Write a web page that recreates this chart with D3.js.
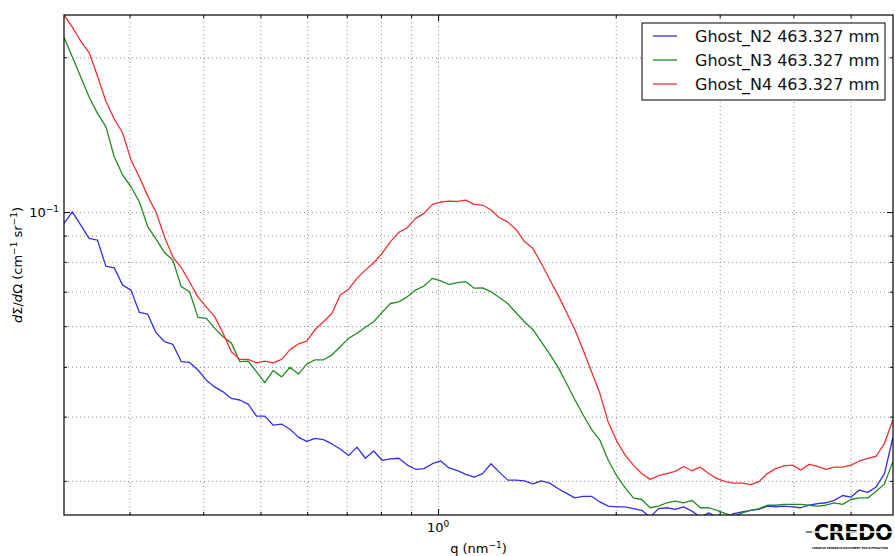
<!DOCTYPE html>
<html>
<head>
<meta charset="utf-8">
<script src="https://cdn.jsdelivr.net/npm/d3@7"></script>
<style>
body { margin: 0; background: #fff; }
svg { font-family: "DejaVu Sans", sans-serif; }
.grid line { stroke: #8c8c8c; stroke-dasharray: 1,3; stroke-width: 1; }
.grid path, .ticks path { display: none; }
.ticks line { stroke: #000; }
</style>
</head>
<body>
<svg id="chart" width="895" height="556"></svg>
<script>
// q grid shared by the three curves (nm^-1)
const qValues = [
    0.2323, 0.2400, 0.2480, 0.2562, 0.2647, 0.2735, 0.2826, 0.2920, 0.3017, 0.3117,
    0.3221, 0.3328, 0.3438, 0.3552, 0.3670, 0.3792, 0.3918, 0.4048, 0.4182, 0.4321,
    0.4464, 0.4612, 0.4765, 0.4924, 0.5087, 0.5256, 0.5431, 0.5611, 0.5797, 0.5990,
    0.6189, 0.6394, 0.6606, 0.6826, 0.7052, 0.7286, 0.7528, 0.7778, 0.8036, 0.8303,
    0.8579, 0.8866, 0.9160, 0.9464, 0.9779, 1.0103, 1.0439, 1.0785, 1.1143, 1.1513,
    1.1896, 1.2291, 1.2699, 1.3121, 1.3556, 1.4006, 1.4471, 1.4952, 1.5448, 1.5961,
    1.6491, 1.7045, 1.7611, 1.8195, 1.8799, 1.9424, 2.0068, 2.0735, 2.1423, 2.2134,
    2.2869, 2.3629, 2.4413, 2.5224, 2.6061, 2.6926, 2.7820, 2.8744, 2.9698, 3.0684,
    3.1703, 3.2755, 3.3843, 3.4966, 3.6127, 3.7327, 3.8566, 3.9846, 4.1169, 4.2536,
    4.3948, 4.5407, 4.6915, 4.8472, 5.0081, 5.1744, 5.3462, 5.5237, 5.7071, 5.8965
];

const ghostN2 = [
    0.0951, 0.1001, 0.0943, 0.0889, 0.0882, 0.0785, 0.0779, 0.0721, 0.0705, 0.0638,
    0.0633, 0.0582, 0.0560, 0.0553, 0.0512, 0.0510, 0.0493, 0.0471, 0.0457, 0.0447,
    0.0434, 0.0431, 0.0423, 0.0401, 0.0401, 0.0385, 0.0387, 0.0378, 0.0365, 0.0358,
    0.0363, 0.0361, 0.0354, 0.0346, 0.0336, 0.0349, 0.0332, 0.0343, 0.0329, 0.0331,
    0.0332, 0.0322, 0.0316, 0.0317, 0.0324, 0.0328, 0.0318, 0.0314, 0.0309, 0.0305,
    0.0310, 0.0324, 0.0312, 0.0301, 0.0301, 0.0300, 0.0296, 0.0300, 0.0297, 0.0290,
    0.0284, 0.0278, 0.0280, 0.0280, 0.0273, 0.0268, 0.0267, 0.0267, 0.0265, 0.0263,
    0.0255, 0.0265, 0.0266, 0.0264, 0.0267, 0.0262, 0.0255, 0.0260, 0.0255, 0.0255,
    0.0259, 0.0261, 0.0263, 0.0264, 0.0268, 0.0267, 0.0268, 0.0267, 0.0266, 0.0269,
    0.0271, 0.0272, 0.0275, 0.0281, 0.0279, 0.0288, 0.0285, 0.0292, 0.0310, 0.0364
];

const ghostN3 = [
    0.2187, 0.2002, 0.1831, 0.1674, 0.1556, 0.1466, 0.1281, 0.1180, 0.1120, 0.1047,
    0.0936, 0.0886, 0.0834, 0.0807, 0.0716, 0.0700, 0.0624, 0.0621, 0.0594, 0.0572,
    0.0556, 0.0512, 0.0513, 0.0489, 0.0466, 0.0492, 0.0478, 0.0499, 0.0484, 0.0506,
    0.0516, 0.0516, 0.0527, 0.0547, 0.0568, 0.0581, 0.0597, 0.0612, 0.0638, 0.0664,
    0.0669, 0.0684, 0.0705, 0.0718, 0.0743, 0.0735, 0.0723, 0.0729, 0.0732, 0.0711,
    0.0712, 0.0700, 0.0682, 0.0664, 0.0637, 0.0612, 0.0591, 0.0560, 0.0530, 0.0500,
    0.0465, 0.0432, 0.0403, 0.0378, 0.0360, 0.0329, 0.0307, 0.0291, 0.0278, 0.0276,
    0.0266, 0.0268, 0.0272, 0.0274, 0.0272, 0.0275, 0.0266, 0.0266, 0.0263, 0.0259,
    0.0256, 0.0260, 0.0263, 0.0265, 0.0269, 0.0269, 0.0270, 0.0270, 0.0270, 0.0269,
    0.0268, 0.0269, 0.0272, 0.0270, 0.0276, 0.0278, 0.0278, 0.0286, 0.0296, 0.0327
];

const ghostN4 = [
    0.2417, 0.2290, 0.2151, 0.2043, 0.1839, 0.1644, 0.1517, 0.1425, 0.1263, 0.1170,
    0.1074, 0.0998, 0.0895, 0.0818, 0.0780, 0.0731, 0.0683, 0.0654, 0.0626, 0.0581,
    0.0535, 0.0517, 0.0517, 0.0509, 0.0513, 0.0509, 0.0517, 0.0540, 0.0554, 0.0561,
    0.0591, 0.0612, 0.0635, 0.0690, 0.0708, 0.0743, 0.0771, 0.0797, 0.0831, 0.0876,
    0.0913, 0.0932, 0.0972, 0.0994, 0.1035, 0.1046, 0.1050, 0.1049, 0.1055, 0.1035,
    0.1032, 0.1009, 0.0975, 0.0957, 0.0925, 0.0876, 0.0850, 0.0795, 0.0740, 0.0690,
    0.0640, 0.0591, 0.0539, 0.0489, 0.0444, 0.0390, 0.0359, 0.0337, 0.0322, 0.0310,
    0.0302, 0.0307, 0.0310, 0.0313, 0.0320, 0.0314, 0.0319, 0.0310, 0.0303, 0.0299,
    0.0297, 0.0297, 0.0295, 0.0299, 0.0310, 0.0317, 0.0321, 0.0322, 0.0315, 0.0323,
    0.0320, 0.0316, 0.0319, 0.0319, 0.0322, 0.0328, 0.0332, 0.0335, 0.0355, 0.0394
];

const seriesNames = ["Ghost_N2 463.327 mm", "Ghost_N3 463.327 mm", "Ghost_N4 463.327 mm"];
const seriesColors = ["#3030ea", "#228a22", "#ee3030"];

const xMajorTicks = [1];
const xMinorTicks = [0.3, 0.4, 0.5, 0.6, 0.7, 0.8, 0.9, 2, 3, 4, 5];
const yMajorTicks = [0.1];
const yMinorTicks = [0.03, 0.04, 0.05, 0.06, 0.07, 0.08, 0.09, 0.2];
const xDomain = [0.2323, 5.90];
const yDomain = [0.02575, 0.2417];

let margin = {left: 64, top: 15, right: 2, bottom: 41};
let width = 895 - margin.left - margin.right;
let height = 556 - margin.top - margin.bottom;

let svg = d3.select("#chart");
let g = svg.append("g").attr("transform", "translate(" + margin.left + "," + margin.top + ")");

let x = d3.scaleLog().domain(xDomain).range([0, width]);
let y = d3.scaleLog().domain(yDomain).range([height, 0]);

let allX = xMajorTicks.concat(xMinorTicks);
let allY = yMajorTicks.concat(yMinorTicks);

// dotted grid on every tick
g.append("g").attr("class", "grid")
    .attr("transform", "translate(0," + height + ")")
    .call(d3.axisBottom(x).tickValues(allX).tickSize(-height).tickFormat(""));
g.append("g").attr("class", "grid")
    .call(d3.axisLeft(y).tickValues(allY).tickSize(-width).tickFormat(""));

// curves
g.append("clipPath").attr("id", "plotClip")
    .append("rect").attr("width", width).attr("height", height);

let series = [ghostN2, ghostN3, ghostN4].map(function (vals, i) {
    return {
        name: seriesNames[i],
        color: seriesColors[i],
        points: qValues.map(function (q, j) { return {q: q, v: vals[j]}; })
    };
});

let line = d3.line()
    .x(function (d) { return x(d.q); })
    .y(function (d) { return y(d.v); });

g.append("g").attr("clip-path", "url(#plotClip)")
    .selectAll("path").data(series).enter()
    .append("path")
    .attr("d", function (d) { return line(d.points); })
    .attr("fill", "none")
    .attr("stroke", function (d) { return d.color; })
    .attr("stroke-width", 1.3)
    .attr("stroke-linejoin", "round");

// inward ticks on all four sides
function tickSet(axisFn, scale, values, len, transform) {
    g.append("g").attr("class", "ticks")
        .attr("transform", transform)
        .call(axisFn(scale).tickValues(values).tickSize(-len).tickFormat(""));
}
tickSet(d3.axisBottom, x, xMajorTicks, 6, "translate(0," + height + ")");
tickSet(d3.axisBottom, x, xMinorTicks, 3, "translate(0," + height + ")");
tickSet(d3.axisTop, x, xMajorTicks, 6, "translate(0,0)");
tickSet(d3.axisTop, x, xMinorTicks, 3, "translate(0,0)");
tickSet(d3.axisLeft, y, yMajorTicks, 6, "translate(0,0)");
tickSet(d3.axisLeft, y, yMinorTicks, 3, "translate(0,0)");
tickSet(d3.axisRight, y, yMajorTicks, 6, "translate(" + width + ",0)");
tickSet(d3.axisRight, y, yMinorTicks, 3, "translate(" + width + ",0)");

// frame
g.append("rect")
    .attr("width", width).attr("height", height)
    .attr("fill", "none").attr("stroke", "#000").attr("stroke-width", 1.2);

// major tick labels
g.selectAll(".xlab").data(xMajorTicks).enter()
    .append("text").attr("class", "xlab")
    .attr("x", function (d) { return x(d); })
    .attr("y", height + 17)
    .attr("text-anchor", "middle")
    .attr("font-size", 13)
    .each(function (d) {
        let t = d3.select(this);
        t.append("tspan").text("10");
        t.append("tspan").attr("dy", -5).attr("font-size", 9).text(Math.round(Math.log10(d)));
    });

g.selectAll(".ylab").data(yMajorTicks).enter()
    .append("text").attr("class", "ylab")
    .attr("x", -5)
    .attr("y", function (d) { return y(d) + 5; })
    .attr("text-anchor", "end")
    .attr("font-size", 13)
    .each(function (d) {
        let t = d3.select(this);
        t.append("tspan").text("10");
        t.append("tspan").attr("dy", -5).attr("font-size", 9)
            .text("\u2212" + Math.abs(Math.round(Math.log10(d))));
    });

// axis titles
let xt = svg.append("text")
    .attr("x", margin.left + width / 2)
    .attr("y", 553)
    .attr("text-anchor", "middle")
    .attr("font-size", 13);
xt.append("tspan").text("q (nm");
xt.append("tspan").attr("dy", -5).attr("font-size", 9).text("\u22121");
xt.append("tspan").attr("dy", 5).text(")");

let yt = svg.append("text")
    .attr("transform", "translate(22," + (margin.top + height / 2) + ") rotate(-90)")
    .attr("text-anchor", "middle")
    .attr("font-size", 13);
yt.append("tspan").attr("font-style", "italic").text("d");
yt.append("tspan").text("\u03A3/");
yt.append("tspan").attr("font-style", "italic").text("d");
yt.append("tspan").text("\u03A9 (cm");
yt.append("tspan").attr("dy", -5).attr("font-size", 9).text("\u22121");
yt.append("tspan").attr("dy", 5).text(" sr");
yt.append("tspan").attr("dy", -5).attr("font-size", 9).text("\u22121");
yt.append("tspan").attr("dy", 5).text(")");

// legend
let legend = svg.append("g").attr("transform", "translate(642,23)");
legend.append("rect")
    .attr("width", 243).attr("height", 77)
    .attr("fill", "#fff").attr("stroke", "#000").attr("stroke-width", 1);

let rows = legend.selectAll(".row").data(series).enter()
    .append("g").attr("class", "row")
    .attr("transform", function (d, i) { return "translate(0," + (13 + i * 24) + ")"; });
rows.append("line")
    .attr("x1", 11).attr("x2", 35)
    .attr("stroke", function (d) { return d.color; })
    .attr("stroke-width", 1.3);
rows.append("text")
    .attr("x", 53).attr("y", 6)
    .attr("font-size", 16)
    .attr("fill", "#111")
    .text(function (d) { return d.name; });

// CREDO logo
let logo = svg.append("g");
logo.append("line").attr("x1", 806).attr("x2", 816).attr("y1", 532).attr("y2", 532)
    .attr("stroke", "#000").attr("stroke-width", 1);
logo.append("text")
    .attr("x", 853).attr("y", 540)
    .attr("text-anchor", "middle")
    .attr("font-size", 21).attr("font-weight", "bold")
    .attr("letter-spacing", -0.5)
    .text("CREDO");
logo.append("line").attr("x1", 812).attr("x2", 895).attr("y1", 532).attr("y2", 532)
    .attr("stroke", "#fff").attr("stroke-width", 1.3);
logo.append("text")
    .attr("x", 812).attr("y", 549)
    .attr("font-size", 2.6).attr("font-weight", "bold")
    .text("CREATIVE RESEARCH EQUIPMENT FOR DIFFRACTION");
</script>
</body>
</html>
